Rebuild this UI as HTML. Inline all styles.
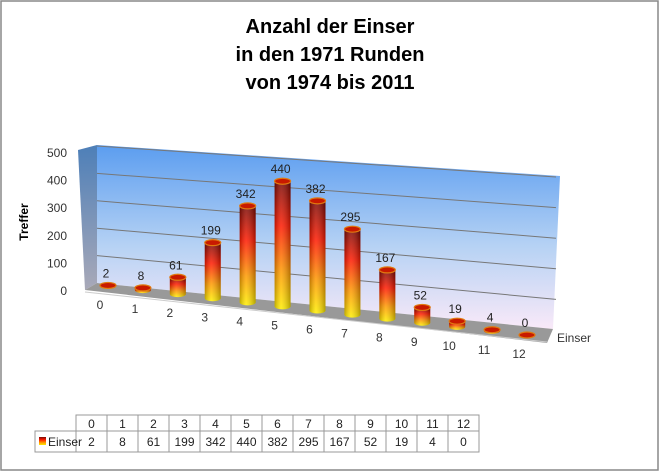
<!DOCTYPE html>
<html><head><meta charset="utf-8"><style>
body{margin:0;background:#fff;font-family:"Liberation Sans",sans-serif}
svg{display:block}
</style></head><body>
<svg width="660" height="472" viewBox="0 0 660 472">
<defs>
<linearGradient id="wall" x1="0" y1="0" x2="0" y2="1"><stop offset="0" stop-color="#5b9df0"/><stop offset="0.55" stop-color="#b6d2f4"/><stop offset="1" stop-color="#f9e9f8"/></linearGradient>
<linearGradient id="side" x1="0" y1="0" x2="0" y2="1"><stop offset="0" stop-color="#4d7fb8"/><stop offset="1" stop-color="#a9a9b8"/></linearGradient>
<linearGradient id="bar" x1="0" y1="0" x2="0" y2="1"><stop offset="0" stop-color="#7a0a05"/><stop offset="0.35" stop-color="#ff1a00"/><stop offset="0.7" stop-color="#ff9900"/><stop offset="1" stop-color="#ffee00"/></linearGradient>
<linearGradient id="shade" x1="0" y1="0" x2="1" y2="0"><stop offset="0" stop-color="#000" stop-opacity="0.25"/><stop offset="0.4" stop-color="#fff" stop-opacity="0.15"/><stop offset="1" stop-color="#000" stop-opacity="0.3"/></linearGradient>
</defs>
<rect x="1" y="1" width="657" height="469" fill="#fff" stroke="#888" stroke-width="1.5"/>
<g font-weight="bold" font-size="20" text-anchor="middle" fill="#000">
<text x="330" y="33">Anzahl der Einser</text>
<text x="330" y="61">in den 1971 Runden</text>
<text x="330" y="89">von 1974 bis 2011</text>
</g>
<polygon points="78,150 97,145 97,283 85,290" fill="url(#side)"/>
<polygon points="97,145 560,176 553,329 97,283" fill="url(#wall)"/>
<polygon points="85,290 97,283 553,329 547,343" fill="#999"/>
<line x1="85" y1="292" x2="547" y2="342" stroke="#ccc" stroke-width="1"/>
<g id="grid"></g>
<g id="yticks" font-size="12" fill="#333" text-anchor="end"></g>
<text x="28" y="222" transform="rotate(-90 28 222)" font-size="12" font-weight="bold" text-anchor="middle">Treffer</text>
<g id="bars"></g>
<g id="xlabels" font-size="12" fill="#333" text-anchor="middle"></g>
<text x="557" y="342" font-size="12" fill="#333">Einser</text>
<g id="table" font-size="12" fill="#222"></g>
</svg>
<script>
const categories=["0","1","2","3","4","5","6","7","8","9","10","11","12"];
const values=[2,8,61,199,342,440,382,295,167,52,19,4,0];
const yTicks=[0,100,200,300,400,500];
const NS="http://www.w3.org/2000/svg";
function mk(t,a,p){const e=document.createElementNS(NS,t);for(const k in a)e.setAttribute(k,a[k]);p.appendChild(e);return e;}
// back wall value -> y at left (x=97) and right (x~556)
function wallY(v,side){return side? 330-v*0.306 : 283-v*0.274;}
function barX(i){return 108+i*(527-108)/12;}
function barBase(i){return 286+i*(335-286)/12;}
function barScale(i){return 0.272+0.0025*i;}
const grid=document.getElementById('grid'),yt=document.getElementById('yticks');
yTicks.forEach(v=>{
  if(v>0){const l=mk('line',{x1:97,y1:wallY(v,0),x2:556,y2:wallY(v,1),stroke:'#777','stroke-width':1},grid);
  }
  const t=mk('text',{x:67,y:295-v*0.276},yt);t.textContent=v;
  
});
const bars=document.getElementById('bars'),xl=document.getElementById('xlabels');
values.forEach((v,i)=>{
  const cx=barX(i),by=barBase(i),h=v*barScale(i),ty=by-h,w=8,ry=3;
  const g=mk('g',{},bars);
  
  mk('path',{d:`M${cx-w},${ty} L${cx-w},${by} A${w},${ry} 0 0 0 ${cx+w},${by} L${cx+w},${ty} Z`,fill:'url(#bar)'},g);
  mk('path',{d:`M${cx-w},${ty} L${cx-w},${by} A${w},${ry} 0 0 0 ${cx+w},${by} L${cx+w},${ty} Z`,fill:'url(#shade)'},g);
  mk('ellipse',{cx:cx,cy:ty,rx:w,ry:ry,fill:'#c81a00',stroke:'#e07a10','stroke-width':1.2},g);
  const lb=mk('text',{x:cx-2,y:ty-8,'font-size':12,fill:'#222','text-anchor':'middle'},bars);
  lb.textContent=v;
  const xt=mk('text',{x:cx-8,y:by+23},xl);xt.textContent=categories[i];
  
});
const tb=document.getElementById('table');
const x0=76,cw=31,r1=415,r2=431,r3=452;
mk('rect',{x:x0,y:r1,width:cw*13,height:r3-r1,fill:'none',stroke:'#999'},tb);
mk('rect',{x:35,y:r2,width:x0-35,height:r3-r2,fill:'none',stroke:'#999'},tb);
mk('line',{x1:x0,y1:r2,x2:x0+cw*13,y2:r2,stroke:'#999'},tb);
for(let i=1;i<13;i++)mk('line',{x1:x0+i*cw,y1:r1,x2:x0+i*cw,y2:r3,stroke:'#999'},tb);
mk('rect',{x:39,y:437,width:7,height:8,fill:'url(#bar)'},tb);
const rl=mk('text',{x:48,y:446},tb);rl.textContent='Einser';

categories.forEach((c,i)=>{
  const h=mk('text',{x:x0+i*cw+cw/2,y:428,'text-anchor':'middle'},tb);h.textContent=c;
  
  const d=mk('text',{x:x0+i*cw+cw/2,y:446,'text-anchor':'middle'},tb);d.textContent=values[i];
  
});
</script>
</body></html>
